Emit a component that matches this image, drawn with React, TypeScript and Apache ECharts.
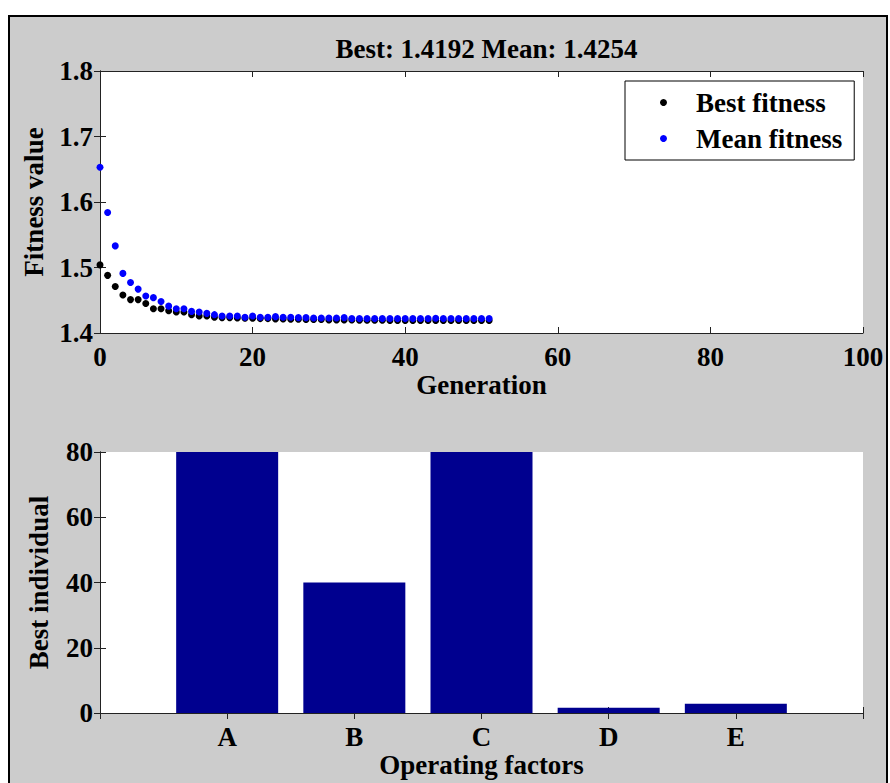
import React, { useEffect, useRef } from "react";
import * as echarts from "echarts";

// Fitness per generation (generation = index, 0..51)
const bestFitness = [
  1.504, 1.488, 1.471, 1.458, 1.451, 1.451, 1.445, 1.437, 1.437, 1.434,
  1.432, 1.432, 1.428, 1.426, 1.426, 1.424, 1.4235, 1.4235, 1.423, 1.4225,
  1.4225, 1.422, 1.422, 1.4215, 1.4215, 1.421, 1.421, 1.4205, 1.4205, 1.4205,
  1.42, 1.42, 1.42, 1.42, 1.4195, 1.4195, 1.4195, 1.4195, 1.4192, 1.4192,
  1.4192, 1.4192, 1.4192, 1.4192, 1.4192, 1.4192, 1.4192, 1.4192, 1.4192, 1.4192,
  1.4192, 1.4192,
];
const meanFitness = [
  1.653, 1.584, 1.533, 1.491, 1.477, 1.467, 1.4565, 1.454, 1.448, 1.441,
  1.437, 1.437, 1.433, 1.432, 1.43, 1.428, 1.426, 1.426, 1.426, 1.424,
  1.426, 1.424, 1.424, 1.425, 1.424, 1.424, 1.4235, 1.4235, 1.423, 1.423,
  1.423, 1.423, 1.4235, 1.422, 1.422, 1.422, 1.422, 1.422, 1.422, 1.422,
  1.422, 1.422, 1.422, 1.422, 1.4225, 1.422, 1.422, 1.422, 1.422, 1.422,
  1.422, 1.422,
];
const factors = ["A", "B", "C", "D", "E"];
const bestIndividual = [80, 40, 80, 1.6, 2.8];
const titleText = "Best: 1.4192 Mean: 1.4254";

const FONT = "'Liberation Serif', 'Times New Roman', serif";

export default function App() {
  const ref = useRef<HTMLDivElement>(null);
  useEffect(() => {
    document.body.style.margin = "0";
    if (!ref.current) return;
    const chart = echarts.init(ref.current, null, { renderer: "svg" });
    const txt = { fontFamily: FONT, fontWeight: "bold" as const, fontSize: 27, color: "#000" };
    const line = { show: true, lineStyle: { color: "#222", width: 1 } };
    const tick = { show: true, inside: true, length: 6, lineStyle: { color: "#222" } };
    const boxAxis = (pos: string, grid: number, extra: any) => ({
      type: "value",
      gridIndex: grid,
      position: pos,
      axisLine: line,
      axisTick: tick,
      axisLabel: { show: false },
      splitLine: { show: false },
      ...extra,
    });
    const catLabel = (v: number) => {
      const i = Math.round(v) - 1;
      return Number.isInteger(v) && i >= 0 && i < factors.length ? factors[i] : "";
    };
    const option: any = {
      animation: false,
      backgroundColor: "#fff",
      graphic: [
        {
          type: "rect",
          shape: { x: 9, y: 16, width: 878, height: 780 },
          style: { fill: "#cccccc", stroke: "#000", lineWidth: 2 },
          z: -10,
          silent: true,
        },
      ],
      title: {
        text: titleText,
        left: 481.5,
        top: 30,
        textAlign: "center",
        textStyle: { fontFamily: FONT, fontWeight: "bold", fontSize: 27, color: "#000" },
      },
      legend: {
        orient: "vertical",
        left: 625,
        top: 81,
        backgroundColor: "#fff",
        borderColor: "#000",
        borderWidth: 1,
        padding: [8, 12, 8, 35],
        itemWidth: 7,
        itemHeight: 7,
        itemGap: 9,
        icon: "circle",
        textStyle: { ...txt, padding: [0, 0, 0, 24] },
        data: ["Best fitness", "Mean fitness"],
      },
      grid: [
        { left: 100, top: 71, right: 27, bottom: 450, backgroundColor: "#fff", show: true, borderWidth: 0 },
        { left: 100, top: 452, right: 27, bottom: 70, backgroundColor: "#fff", show: true, borderWidth: 0 },
      ],
      xAxis: [
        {
          type: "value",
          gridIndex: 0,
          min: 0,
          max: 100,
          interval: 20,
          name: "Generation",
          nameLocation: "middle",
          nameGap: 38,
          nameTextStyle: txt,
          axisLine: line,
          axisTick: tick,
          axisLabel: { ...txt, margin: 10 },
          splitLine: { show: false },
        },
        boxAxis("top", 0, { min: 0, max: 100, interval: 20 }),
        {
          type: "value",
          gridIndex: 1,
          min: 0,
          max: 6,
          interval: 1,
          name: "Operating factors",
          nameLocation: "middle",
          nameGap: 38,
          nameTextStyle: txt,
          axisLine: line,
          axisTick: { ...tick, interval: 0 },
          axisLabel: { ...txt, margin: 10, formatter: catLabel },
          splitLine: { show: false },
        },
        boxAxis("top", 1, { min: 0, max: 6, interval: 1 }),
      ],
      yAxis: [
        {
          type: "value",
          gridIndex: 0,
          min: 1.4,
          max: 1.8,
          interval: 0.1,
          name: "Fitness value",
          nameLocation: "middle",
          nameGap: 53,
          nameTextStyle: txt,
          axisLine: line,
          axisTick: tick,
          axisLabel: { ...txt, margin: 7, formatter: (v: number) => v.toFixed(1) },
          splitLine: { show: false },
        },
        boxAxis("right", 0, { min: 1.4, max: 1.8, interval: 0.1 }),
        {
          type: "value",
          gridIndex: 1,
          min: 0,
          max: 80,
          interval: 20,
          name: "Best individual",
          nameLocation: "middle",
          nameGap: 48,
          nameTextStyle: txt,
          axisLine: line,
          axisTick: tick,
          axisLabel: { ...txt, margin: 7 },
          splitLine: { show: false },
        },
        boxAxis("right", 1, { min: 0, max: 80, interval: 20 }),
      ],
      series: [
        {
          name: "Best fitness",
          type: "scatter",
          xAxisIndex: 0,
          yAxisIndex: 0,
          symbol: "circle",
          symbolSize: 7,
          itemStyle: { color: "#000", opacity: 1 },
          data: bestFitness.map((v, i) => [i, v]),
          z: 2,
        },
        {
          name: "Mean fitness",
          type: "scatter",
          xAxisIndex: 0,
          yAxisIndex: 0,
          symbol: "circle",
          symbolSize: 7,
          itemStyle: { color: "#0000ff", opacity: 1 },
          data: meanFitness.map((v, i) => [i, v]),
          z: 3,
        },
        {
          name: "Best individual",
          type: "bar",
          xAxisIndex: 2,
          yAxisIndex: 2,
          barWidth: 102,
          itemStyle: { color: "#00008f" },
          data: bestIndividual.map((v, i) => [i + 1, v]),
          z: 1,
        },
      ],
    };
    chart.setOption(option);
    return () => chart.dispose();
  }, []);
  return <div ref={ref} style={{ width: 890, height: 783 }} />;
}
